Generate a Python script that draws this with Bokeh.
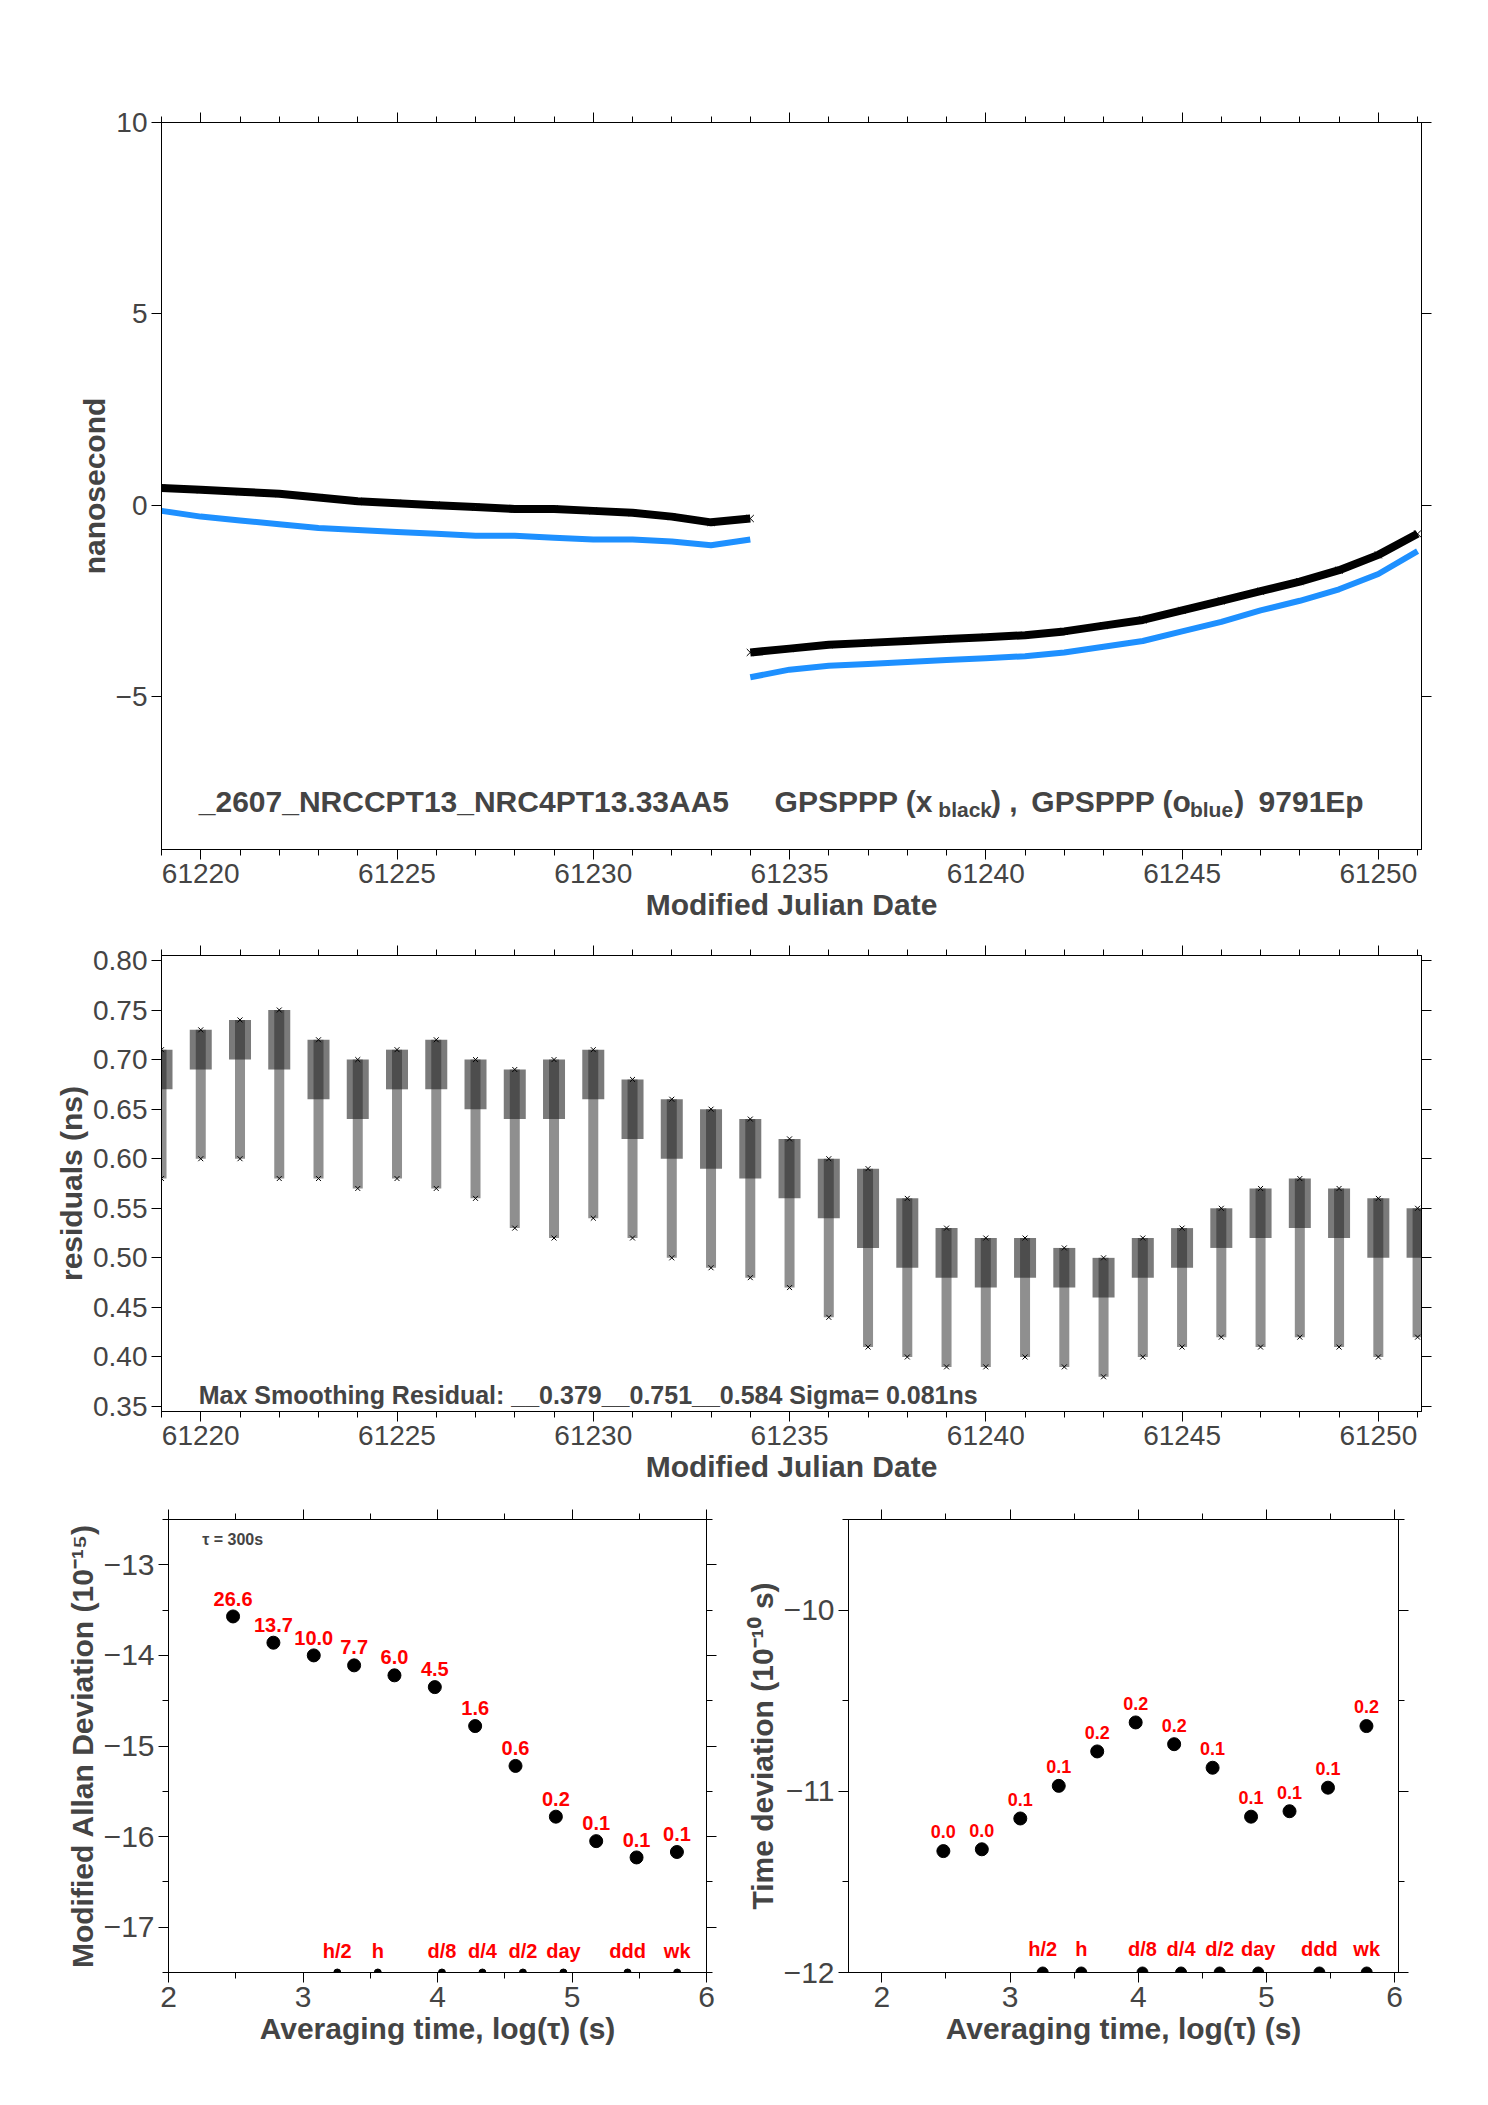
from bokeh.plotting import figure
from bokeh.layouts import column, row
from bokeh.models import LinearAxis, SingleIntervalTicker, Label, Range1d, PrintfTickFormatter
from bokeh.embed import file_html
from bokeh.resources import INLINE
from bokeh.core.properties import value

FONT = "Liberation Sans"

# ---- top panel data (MJD, ns) ----
mjd_a = [61219, 61220, 61221, 61222, 61223, 61224, 61225, 61226, 61227, 61228, 61229, 61230, 61231, 61232, 61233, 61234]
black_a = [0.45, 0.4, 0.35, 0.3, 0.2, 0.1, 0.05, 0.0, -0.05, -0.1, -0.1, -0.15, -0.2, -0.3, -0.45, -0.35]
blue_a = [-0.15, -0.3, -0.4, -0.5, -0.6, -0.65, -0.7, -0.75, -0.8, -0.8, -0.85, -0.9, -0.9, -0.95, -1.05, -0.9]
mjd_b = [61234, 61235, 61236, 61237, 61238, 61239, 61240, 61241, 61242, 61243, 61244, 61245, 61246, 61247, 61248, 61249, 61250, 61251]
black_b = [-3.85, -3.75, -3.65, -3.6, -3.55, -3.5, -3.45, -3.4, -3.3, -3.15, -3.0, -2.75, -2.5, -2.25, -2.0, -1.7, -1.3, -0.75]
blue_b = [-4.5, -4.3, -4.2, -4.15, -4.1, -4.05, -4.0, -3.95, -3.85, -3.7, -3.55, -3.3, -3.05, -2.75, -2.5, -2.2, -1.8, -1.2]

# ---- residuals (per-day spread) ----
res_mjd = list(range(61219, 61252))
res_hi = [.71, .73, .74, .75, .72, .70, .71, .72, .70, .69, .70, .71, .68, .66, .65, .64, .62, .60, .59, .56, .53, .52, .52, .51, .50, .52, .53, .55, .57, .58, .57, .56, .55]
res_lo = [.58, .60, .60, .58, .58, .57, .58, .57, .56, .53, .52, .54, .52, .50, .49, .48, .47, .44, .41, .40, .39, .39, .40, .39, .38, .40, .41, .42, .41, .42, .41, .40, .42]
res_mid = [.67, .69, .70, .69, .66, .64, .67, .67, .65, .64, .64, .66, .62, .60, .59, .58, .56, .54, .51, .49, .48, .47, .48, .47, .46, .48, .49, .51, .52, .53, .52, .50, .50]

# ---- stability ----
log_tau = [2.48, 2.78, 3.08, 3.38, 3.68, 3.98, 4.28, 4.58, 4.88, 5.18, 5.48, 5.78]
mdev = [-13.57, -13.86, -14.0, -14.11, -14.22, -14.35, -14.78, -15.22, -15.78, -16.05, -16.23, -16.17]
mdev_lbl = ["26.6", "13.7", "10.0", "7.7", "6.0", "4.5", "1.6", "0.6", "0.2", "0.1", "0.1", "0.1"]
tdev = [-11.33, -11.32, -11.15, -10.97, -10.78, -10.62, -10.74, -10.87, -11.14, -11.11, -10.98, -10.64]
tdev_lbl = ["0.0", "0.0", "0.1", "0.1", "0.2", "0.2", "0.2", "0.1", "0.1", "0.1", "0.1", "0.2"]
mark_x = [3.255, 3.556, 4.033, 4.334, 4.635, 4.936, 5.413, 5.782]
mark_lbl = ["h/2", "h", "d/8", "d/4", "d/2", "day", "ddd", "wk"]


def style(p, xint, xminor, yint, yminor, tick_fs="28px"):
    p.xaxis.ticker = SingleIntervalTicker(interval=xint, num_minor_ticks=xminor)
    p.yaxis.ticker = SingleIntervalTicker(interval=yint, num_minor_ticks=yminor)
    p.add_layout(LinearAxis(ticker=SingleIntervalTicker(interval=xint, num_minor_ticks=xminor)), "above")
    p.add_layout(LinearAxis(ticker=SingleIntervalTicker(interval=yint, num_minor_ticks=yminor)), "right")
    for ax in p.axis:
        ax.major_label_text_font = FONT
        ax.major_label_text_font_size = tick_fs
        ax.axis_label_text_font = FONT
        ax.axis_label_text_font_style = "bold"
        ax.axis_label_text_font_size = "30px"
        ax.axis_line_color = "black"
        ax.major_tick_line_color = "black"
        ax.minor_tick_line_color = "black"
        ax.major_tick_out = 10
        ax.major_tick_in = 0
        ax.minor_tick_out = 6
        ax.minor_tick_in = 0
        ax.major_label_standoff = 4
        ax.axis_label_standoff = 2
    for ax in p.above + p.right:
        ax.major_label_text_font_size = "0px"
    p.grid.visible = False
    p.outline_line_color = "black"
    p.background_fill_color = "white"
    p.border_fill_color = "white"


# ---- top ----
p1 = figure(frame_width=1260, frame_height=727, x_range=Range1d(61219, 61251.1), y_range=Range1d(-9, 10),
            output_backend="svg", toolbar_location=None, min_border_left=161, min_border_top=122,
            min_border_bottom=96, min_border_right=40)
style(p1, 5, 5, 5, 1)
p1.left[0].axis_label = "nanosecond"
p1.below[0].axis_label = "Modified Julian Date"
for xs, bl, bk in [(mjd_a, blue_a, black_a), (mjd_b, blue_b, black_b)]:
    p1.line(xs, bl, line_color="#1e90ff", line_width=6)
    p1.line(xs, bk, line_color="black", line_width=8)
    p1.scatter(xs, bk, marker="x", size=10, line_color="black")
tx = [(61219.95, -7.75, "_2607_NRCCPT13_NRC4PT13.33AA5", 30),
      (61234.62, -7.75, "GPSPPP (x", 30),
      (61238.79, -7.95, "black", 21),
      (61240.13, -7.75, ")  ,", 30),
      (61241.16, -7.75, "GPSPPP (o", 30),
      (61245.2, -7.95, "blue", 21),
      (61246.33, -7.75, ")", 30),
      (61246.95, -7.75, "9791Ep", 30)]
for x, y, t, fs in tx:
    p1.add_layout(Label(x=x, y=y, text=t, text_font=FONT, text_font_style="bold",
                        text_font_size=f"{fs}px", text_baseline="middle"))

# ---- middle ----
p2 = figure(frame_width=1260, frame_height=456, x_range=Range1d(61219, 61251.1), y_range=Range1d(0.345, 0.805),
            output_backend="svg", toolbar_location=None, min_border_left=161, min_border_top=10,
            min_border_bottom=98, min_border_right=40)
style(p2, 5, 5, 0.05, 1)
p2.left[0].formatter = PrintfTickFormatter(format="%.2f")
p2.left[0].axis_label = "residuals (ns)"
p2.below[0].axis_label = "Modified Julian Date"
p2.segment(x0=res_mjd, y0=res_lo, x1=res_mjd, y1=res_hi, line_color="#444444", line_width=10, line_alpha=0.6)
p2.segment(x0=res_mjd, y0=res_mid, x1=res_mjd, y1=res_hi, line_color="#222222", line_width=22, line_alpha=0.6)
p2.scatter(res_mjd, res_hi, marker="x", size=7, line_color="black")
p2.scatter(res_mjd, res_lo, marker="x", size=7, line_color="black")
p2.add_layout(Label(x=61219.95, y=0.362, text="Max Smoothing Residual: __0.379__0.751__0.584  Sigma= 0.081ns",
                    text_font=FONT, text_font_style="bold", text_font_size="25px", text_baseline="middle"))

# ---- bottom left ----
p3 = figure(frame_width=538, frame_height=453, x_range=Range1d(2, 6), y_range=Range1d(-17.5, -12.5),
            output_backend="svg", toolbar_location=None, min_border_left=168, min_border_top=10,
            min_border_bottom=100, min_border_right=36)
style(p3, 1, 2, 1, 2, "30px")
p3.left[0].axis_label = "Modified Allan Deviation (10⁻¹⁵)"
p3.below[0].axis_label = "Averaging time, log(τ) (s)"
p3.scatter(log_tau, mdev, size=13, fill_color="black", line_color="black")
p3.text(log_tau, [v + 0.12 for v in mdev], text=mdev_lbl, text_color="red", text_font=value(FONT),
        text_font_style="bold", text_font_size="20px", text_align="center", text_baseline="bottom")
p3.scatter(mark_x, [-17.5] * 8, size=7, fill_color="black", line_color="black")
p3.text(mark_x, [-17.38] * 8, text=mark_lbl, text_color="red", text_font=value(FONT),
        text_font_style="bold", text_font_size="20px", text_align="center", text_baseline="bottom")
p3.add_layout(Label(x=2.25, y=-12.72, text="τ = 300s", text_font=FONT, text_font_style="bold",
                    text_font_size="16px", text_baseline="middle"))

# ---- bottom right ----
p4 = figure(frame_width=550, frame_height=453, x_range=Range1d(1.74, 6.03), y_range=Range1d(-12, -9.5),
            output_backend="svg", toolbar_location=None, min_border_left=100, min_border_top=10,
            min_border_bottom=100, min_border_right=30)
style(p4, 1, 2, 1, 2, "30px")
p4.left[0].axis_label = "Time deviation (10⁻¹⁰ s)"
p4.below[0].axis_label = "Averaging time, log(τ) (s)"
p4.scatter(log_tau, tdev, size=13, fill_color="black", line_color="black")
p4.text(log_tau, [v + 0.07 for v in tdev], text=tdev_lbl, text_color="red", text_font=value(FONT),
        text_font_style="bold", text_font_size="18px", text_align="center", text_baseline="bottom")
p4.scatter(mark_x, [-12] * 8, size=11, fill_color="black", line_color="black")
p4.text(mark_x, [-11.93] * 8, text=mark_lbl, text_color="red", text_font=value(FONT),
        text_font_style="bold", text_font_size="20px", text_align="center", text_baseline="bottom")

layout = column(p1, p2, row(p3, p4))
open("out.html", "w").write(file_html(layout, INLINE))
